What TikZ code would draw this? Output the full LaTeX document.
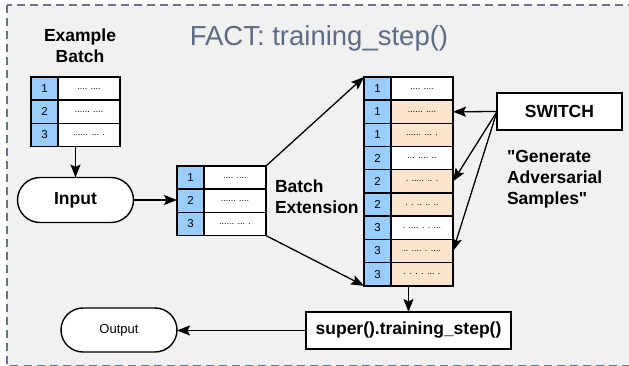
\documentclass[tikz,border=0pt]{standalone}
\usepackage{fontspec}
\setmainfont{Liberation Sans}[Ligatures=TeXOff]
\usetikzlibrary{arrows.meta,calc,positioning,shapes.misc}
\definecolor{numblue}{RGB}{153,204,255}
\definecolor{advpeach}{RGB}{252,229,205}
\definecolor{panelgray}{RGB}{241,241,241}
\definecolor{framegray}{RGB}{104,116,140}
\definecolor{titlegray}{RGB}{92,108,135}

\begin{document}
\begin{tikzpicture}[x=1pt,y=-1pt,line width=1.4pt,
    >={Stealth[length=13pt,width=10pt,inset=2.5pt]},
    every node/.style={inner sep=0pt,outer sep=0pt},
    numcell/.style={draw,fill=numblue,minimum width=27pt,minimum height=23.2pt,
      font=\fontsize{11.5}{12}\selectfont},
    txtcell/.style={draw,fill=white,minimum width=62pt,minimum height=23.2pt,
      font=\fontsize{9}{10}\selectfont},
    tblbox/.style={minimum width=89pt},
    lbl/.style={font=\fontsize{17.5}{21}\selectfont\bfseries,align=left},
    pill/.style={draw,fill=white,rounded rectangle,minimum width=116pt},
    plainbox/.style={draw,fill=white,minimum height=37pt,
      font=\fontsize{17.5}{21}\selectfont\bfseries},
    link/.style={->,line width=1.3pt}]
  \path[use as bounding box,clip](0,0)rectangle(629,366);
  \draw[framegray,fill=panelgray,dash pattern=on 8pt off 5pt](7,5)rectangle(650,365.5);
  \node[font=\fontsize{27.5}{30}\selectfont,text=titlegray,anchor=base](title)
    at(319,45.5){FACT: training\_step()};

  % example batch
  \node[lbl,align=center](exlabel)at(80,46){Example\\Batch};
  \node[tblbox,minimum height=69.6pt](exbatch)at(75.5,111.8){};
  \foreach \i/\txt in {1/{.... ....},2/{...... ....},3/{...... ... .}}{
    \node[numcell,anchor=north west](exn\i)
      at($(exbatch.north west)+(0,{(\i-1)*23.2})$){\i};
    \node[txtcell,right=0pt of exn\i](ext\i){\txt};
  }
  \node[pill,minimum height=45pt,font=\fontsize{17.5}{21}\selectfont\bfseries](input)
    at(75.5,200){Input};

  % extended batch
  \node[tblbox,minimum height=69.6pt](midbatch)at(221.5,200.8){};
  \foreach \i/\txt in {1/{.... ....},2/{...... ....},3/{...... ... .}}{
    \node[numcell,anchor=north west](mn\i)
      at($(midbatch.north west)+(0,{(\i-1)*23.2})$){\i};
    \node[txtcell,right=0pt of mn\i](mt\i){\txt};
  }
  \node[lbl,anchor=west](extlabel)at(275,197){Batch\\Extension};

  % batch with adversarial samples
  \node[tblbox,minimum height=208.8pt](rbatch)at(408.5,181.4){};
  \foreach \i/\n/\fl/\txt in {1/1/white/{.... ....},2/1/advpeach/{...... ....},
      3/1/advpeach/{...... ... .},4/2/white/{... .... ..},5/2/advpeach/{. ..... .. .},
      6/2/advpeach/{. . .. .. ..},7/3/white/{. .... . . ...},
      8/3/advpeach/{.. .... . ....},9/3/advpeach/{. . . . ... .}}{
    \node[numcell,anchor=north west](rn\i)
      at($(rbatch.north west)+(0,{(\i-1)*23.2})$){\n};
    \node[txtcell,fill=\fl,right=0pt of rn\i](rt\i){\txt};
  }

  \node[plainbox,minimum width=125pt](switch)at(559.5,111.5){SWITCH};
  \node[lbl,anchor=west](genlabel)at(507,179.4){"Generate\\Adversarial\\Samples"};
  \node[plainbox,minimum width=205pt](super)at(408.5,330.5){super().training\_step()};
  \node[pill,minimum height=44pt,font=\fontsize{13}{15}\selectfont](output)
    at(119,330){Output};

  \draw[link](exbatch.south)--(input.north);
  \draw[link](input.east)--(input.east-|midbatch.west);
  \draw[link](midbatch.north east)--(rbatch.north west);
  \draw[link](midbatch.south east)--(rbatch.south west);
  \foreach \i in {2,5,8}
    \draw[link](switch.west)--(rt\i.east);
  \draw[link](rbatch.south)--(super.north);
  \draw[link](super.west)--(super.west-|output.east);
\end{tikzpicture}
\end{document}
